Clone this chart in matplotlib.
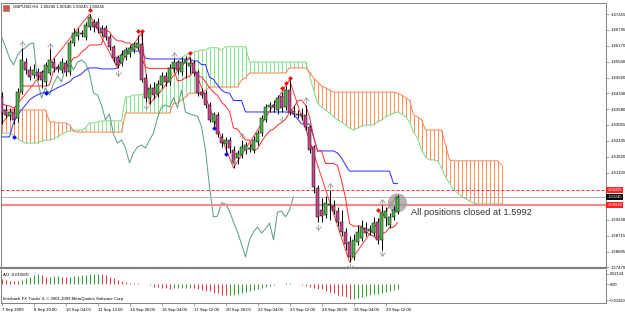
import numpy as np
import matplotlib
matplotlib.use("Agg")
import matplotlib.pyplot as plt
from matplotlib.path import Path

plt.rcParams['font.family'] = ['Liberation Sans', 'DejaVu Sans']

# GBPUSD H4 candles, 7 Sep 2009 .. 29 Sep 2009 (100 bars)
opens = [1.6416, 1.6365, 1.6341, 1.6357, 1.6334, 1.6435, 1.6553, 1.6522, 1.6502, 1.6514,
         1.6514, 1.6475, 1.6510, 1.6553, 1.6534, 1.6522, 1.6549, 1.6514, 1.6628, 1.6655,
         1.6667, 1.6652, 1.6691, 1.6710, 1.6710, 1.6687, 1.6687, 1.6652, 1.6613, 1.6573,
         1.6549, 1.6573, 1.6584, 1.6600, 1.6609, 1.6624, 1.6491, 1.6412, 1.6452, 1.6427,
         1.6463, 1.6498, 1.6475, 1.6530, 1.6553, 1.6514, 1.6549, 1.6537, 1.6549, 1.6514,
         1.6435, 1.6431, 1.6384, 1.6318, 1.6345, 1.6259, 1.6231, 1.6247, 1.6208, 1.6177,
         1.6188, 1.6208, 1.6212, 1.6208, 1.6239, 1.6274, 1.6326, 1.6377, 1.6384, 1.6365,
         1.6420, 1.6377, 1.6443, 1.6361, 1.6349, 1.6349, 1.6345, 1.6299, 1.6220, 1.6059,
         1.5972, 1.5952, 1.5992, 1.5988, 1.5968, 1.5925, 1.5886, 1.5847, 1.5788, 1.5847,
         1.5863, 1.5902, 1.5890, 1.5882, 1.5925, 1.5855, 1.5941, 1.5913, 1.5945, 1.5964]
highs = [1.6435, 1.6384, 1.6373, 1.6373, 1.6452, 1.6609, 1.6569, 1.6537, 1.6545, 1.6530,
         1.6522, 1.6553, 1.6609, 1.6569, 1.6545, 1.6569, 1.6561, 1.6640, 1.6687, 1.6687,
         1.6679, 1.6710, 1.6741, 1.6722, 1.6726, 1.6698, 1.6698, 1.6663, 1.6620, 1.6580,
         1.6600, 1.6613, 1.6620, 1.6632, 1.6659, 1.6667, 1.6506, 1.6467, 1.6475, 1.6483,
         1.6514, 1.6514, 1.6545, 1.6569, 1.6561, 1.6573, 1.6577, 1.6573, 1.6561, 1.6522,
         1.6452, 1.6443, 1.6396, 1.6357, 1.6357, 1.6274, 1.6259, 1.6259, 1.6223, 1.6208,
         1.6247, 1.6239, 1.6231, 1.6262, 1.6286, 1.6345, 1.6388, 1.6396, 1.6404, 1.6424,
         1.6435, 1.6459, 1.6483, 1.6380, 1.6365, 1.6373, 1.6384, 1.6306, 1.6228, 1.6071,
         1.6020, 1.6027, 1.6051, 1.6012, 1.5985, 1.5972, 1.5902, 1.5870, 1.5878, 1.5913,
         1.5933, 1.5925, 1.5913, 1.5945, 1.5941, 1.5992, 1.5984, 1.5960, 1.5988, 1.6031]
lows = [1.6310, 1.6334, 1.6326, 1.6310, 1.6318, 1.6427, 1.6506, 1.6483, 1.6491, 1.6483,
        1.6452, 1.6459, 1.6502, 1.6514, 1.6514, 1.6510, 1.6498, 1.6502, 1.6616, 1.6640,
        1.6652, 1.6640, 1.6679, 1.6671, 1.6667, 1.6655, 1.6640, 1.6600, 1.6553, 1.6530,
        1.6537, 1.6561, 1.6573, 1.6588, 1.6600, 1.6475, 1.6396, 1.6388, 1.6408, 1.6416,
        1.6452, 1.6459, 1.6463, 1.6514, 1.6506, 1.6502, 1.6491, 1.6510, 1.6498, 1.6420,
        1.6412, 1.6373, 1.6318, 1.6302, 1.6259, 1.6220, 1.6200, 1.6196, 1.6138, 1.6153,
        1.6177, 1.6192, 1.6200, 1.6196, 1.6227, 1.6262, 1.6318, 1.6357, 1.6357, 1.6349,
        1.6357, 1.6365, 1.6345, 1.6338, 1.6334, 1.6326, 1.6286, 1.6196, 1.6039, 1.5925,
        1.5925, 1.5941, 1.5933, 1.5956, 1.5909, 1.5870, 1.5815, 1.5768, 1.5776, 1.5835,
        1.5851, 1.5870, 1.5874, 1.5870, 1.5839, 1.5815, 1.5909, 1.5902, 1.5933, 1.5956]
closes = [1.6353, 1.6345, 1.6357, 1.6326, 1.6435, 1.6561, 1.6522, 1.6495, 1.6522, 1.6498,
          1.6483, 1.6541, 1.6561, 1.6530, 1.6526, 1.6553, 1.6514, 1.6628, 1.6667, 1.6671,
          1.6663, 1.6698, 1.6730, 1.6691, 1.6687, 1.6667, 1.6652, 1.6613, 1.6569, 1.6541,
          1.6580, 1.6600, 1.6609, 1.6624, 1.6628, 1.6483, 1.6412, 1.6452, 1.6424, 1.6467,
          1.6498, 1.6475, 1.6530, 1.6553, 1.6522, 1.6553, 1.6561, 1.6549, 1.6510, 1.6431,
          1.6424, 1.6384, 1.6326, 1.6349, 1.6270, 1.6235, 1.6247, 1.6216, 1.6157, 1.6196,
          1.6220, 1.6227, 1.6216, 1.6247, 1.6274, 1.6334, 1.6377, 1.6384, 1.6377, 1.6412,
          1.6373, 1.6443, 1.6357, 1.6349, 1.6345, 1.6341, 1.6299, 1.6208, 1.6063, 1.5945,
          1.5948, 1.6000, 1.5996, 1.5968, 1.5925, 1.5886, 1.5839, 1.5788, 1.5855, 1.5886,
          1.5906, 1.5882, 1.5898, 1.5921, 1.5855, 1.5964, 1.5968, 1.5945, 1.5972, 1.60245]

# Ichimoku lines
tenkan = [1.6388, 1.6384, 1.6380, 1.6373, 1.6380, 1.6459, 1.6459, 1.6459, 1.6459, 1.6459,
          1.6459, 1.6459, 1.6463, 1.6518, 1.6530, 1.6530, 1.6530, 1.6545, 1.6569, 1.6573,
          1.6592, 1.6604, 1.6620, 1.6620, 1.6620, 1.6622, 1.6679, 1.6671, 1.6648, 1.6636,
          1.6636, 1.6628, 1.6628, 1.6614, 1.6614, 1.6571, 1.6532, 1.6528, 1.6528, 1.6528,
          1.6528, 1.6528, 1.6528, 1.6528, 1.6479, 1.6481, 1.6493, 1.6497, 1.6514, 1.6498,
          1.6495, 1.6475, 1.6452, 1.6435, 1.6422, 1.6396, 1.6380, 1.6359, 1.6294, 1.6290,
          1.6267, 1.6247, 1.6247, 1.6206, 1.6212, 1.6241, 1.6263, 1.6282, 1.6290, 1.6304,
          1.6316, 1.6328, 1.6355, 1.6373, 1.6400, 1.6404, 1.6384, 1.6339, 1.6261, 1.6204,
          1.6204, 1.6155, 1.6155, 1.6155, 1.6147, 1.6088, 1.6021, 1.5919, 1.5909, 1.5909,
          1.5909, 1.5890, 1.5876, 1.5870, 1.5856, 1.5880, 1.5884, 1.5904, 1.5904, 1.5923]
kijun = [1.6259, 1.6259, 1.6259, 1.6314, 1.6345, 1.6365, 1.6384, 1.6404, 1.6416, 1.6424,
         1.6431, 1.6435, 1.6435, 1.6443, 1.6452, 1.6459, 1.6467, 1.6475, 1.6491, 1.6498,
         1.6506, 1.6522, 1.6530, 1.6530, 1.6530, 1.6526, 1.6526, 1.6526, 1.6526, 1.6530,
         1.6584, 1.6596, 1.6596, 1.6596, 1.6596, 1.6596, 1.6569, 1.6565, 1.6565, 1.6565,
         1.6565, 1.6565, 1.6565, 1.6565, 1.6565, 1.6565, 1.6565, 1.6565, 1.6557, 1.6557,
         1.6543, 1.6543, 1.6493, 1.6485, 1.6463, 1.6443, 1.6433, 1.6431, 1.6402, 1.6402,
         1.6402, 1.6357, 1.6357, 1.6357, 1.6357, 1.6357, 1.6357, 1.6357, 1.6357, 1.6357,
         1.6357, 1.6357, 1.6355, 1.6349, 1.6330, 1.6310, 1.6310, 1.6310, 1.6261, 1.6204,
         1.6204, 1.6204, 1.6204, 1.6204, 1.6196, 1.6177, 1.6149, 1.6125, 1.6125, 1.6125,
         1.6125, 1.6125, 1.6125, 1.6125, 1.6125, 1.6125, 1.6125, 1.6125, 1.6076, 1.6076]
# senkou spans, shifted 26 bars ahead (126 values)
span_a = [1.6274, 1.6274, 1.6274, 1.6266, 1.6251, 1.6243, 1.6235, 1.6235, 1.6235, 1.6235,
          1.6243, 1.6247, 1.6247, 1.6251, 1.6259, 1.6270, 1.6278, 1.6282, 1.6286, 1.6286,
          1.6286, 1.6294, 1.6314, 1.6314, 1.6318, 1.6322, 1.6322, 1.6322, 1.6322, 1.6322,
          1.6322, 1.6416, 1.6416, 1.6424, 1.6424, 1.6424, 1.6431, 1.6431, 1.6431, 1.6431,
          1.6435, 1.6463, 1.6491, 1.6514, 1.6541, 1.6569, 1.6580, 1.6592, 1.6592, 1.6596,
          1.6600, 1.6600, 1.6609, 1.6609, 1.6609, 1.6600, 1.6613, 1.6613, 1.6613, 1.6613,
          1.6613, 1.6613, 1.6553, 1.6553, 1.6553, 1.6553, 1.6553, 1.6553, 1.6553, 1.6553,
          1.6553, 1.6553, 1.6553, 1.6553, 1.6553, 1.6553, 1.6553, 1.6502, 1.6443, 1.6392,
          1.6377, 1.6365, 1.6353, 1.6338, 1.6326, 1.6318, 1.6306, 1.6294, 1.6286, 1.6294,
          1.6302, 1.6306, 1.6306, 1.6306, 1.6318, 1.6326, 1.6338, 1.6345, 1.6353, 1.6357,
          1.6349, 1.6338, 1.6318, 1.6278, 1.6255, 1.6208, 1.6181, 1.6169, 1.6169, 1.6165,
          1.6138, 1.6102, 1.6078, 1.6051, 1.6039, 1.6027, 1.6016, 1.6008, 1.6000, 1.5996,
          1.5996, 1.5996, 1.5996, 1.5996, 1.5996, 1.5996]
span_b = [1.6365, 1.6365, 1.6365, 1.6365, 1.6365, 1.6365, 1.6365, 1.6365, 1.6365, 1.6365,
          1.6365, 1.6365, 1.6318, 1.6318, 1.6314, 1.6314, 1.6314, 1.6306, 1.6282, 1.6278,
          1.6278, 1.6278, 1.6278, 1.6278, 1.6278, 1.6278, 1.6278, 1.6278, 1.6278, 1.6278,
          1.6278, 1.6353, 1.6353, 1.6353, 1.6353, 1.6353, 1.6353, 1.6353, 1.6353, 1.6353,
          1.6353, 1.6353, 1.6353, 1.6392, 1.6392, 1.6404, 1.6416, 1.6431, 1.6431, 1.6431,
          1.6431, 1.6443, 1.6455, 1.6455, 1.6455, 1.6455, 1.6455, 1.6455, 1.6455, 1.6455,
          1.6483, 1.6491, 1.6510, 1.6510, 1.6510, 1.6510, 1.6510, 1.6510, 1.6510, 1.6510,
          1.6510, 1.6510, 1.6530, 1.6530, 1.6530, 1.6530, 1.6530, 1.6514, 1.6491, 1.6475,
          1.6459, 1.6452, 1.6443, 1.6435, 1.6435, 1.6435, 1.6435, 1.6435, 1.6435, 1.6435,
          1.6435, 1.6435, 1.6435, 1.6435, 1.6435, 1.6435, 1.6435, 1.6435, 1.6435, 1.6431,
          1.6424, 1.6412, 1.6404, 1.6345, 1.6338, 1.6326, 1.6286, 1.6286, 1.6286, 1.6286,
          1.6286, 1.6228, 1.6169, 1.6165, 1.6165, 1.6165, 1.6165, 1.6165, 1.6165, 1.6165,
          1.6165, 1.6165, 1.6165, 1.6165, 1.6165, 1.6149]

# Awesome Oscillator
ao_vals = [0.0110, 0.0075, 0.0070, 0.0065, 0.0060, 0.0090, 0.0115, 0.0145, 0.0190, 0.0200,
           0.0175, 0.0145, 0.0150, 0.0160, 0.0165, 0.0150, 0.0135, 0.0145, 0.0155, 0.0165,
           0.0175, 0.0190, 0.0200, 0.0210, 0.0212, 0.0200, 0.0175, 0.0145, 0.0115, 0.0085,
           0.0065, 0.0040, 0.0030, 0.0020, 0.0012, 0.0005, -0.0010, -0.0030, -0.0052, -0.0070,
           -0.0075, -0.0088, -0.0092, -0.0088, -0.0082, -0.0078, -0.0075, -0.0072, -0.0082, -0.0100,
           -0.0118, -0.0135, -0.0152, -0.0175, -0.0192, -0.0215, -0.0232, -0.0228, -0.0215, -0.0200,
           -0.0185, -0.0162, -0.0145, -0.0122, -0.0100, -0.0078, -0.0055, -0.0032, -0.0020, -0.0008,
           0.0005, 0.0012, 0.0018, 0.0010, 0.0002, -0.0012, -0.0040, -0.0065, -0.0088, -0.0100,
           -0.0110, -0.0135, -0.0160, -0.0190, -0.0215, -0.0245, -0.0275, -0.0305, -0.0298, -0.0282,
           -0.0265, -0.0248, -0.0230, -0.0212, -0.0195, -0.0178, -0.0160, -0.0142, -0.0124, -0.0105]

# zigzag turning points
zz_bars = [0, 22, 29, 35, 37, 47, 58, 72, 87, 99]
zz_prices = [1.6310, 1.6741, 1.6530, 1.6667, 1.6388, 1.6573, 1.6138, 1.6483, 1.5768, 1.6031]

# signal dots
sell_bars = [22, 34, 35, 47, 70, 71, 72, 94]
sell_prices = [1.6757, 1.6675, 1.6675, 1.6588, 1.6452, 1.6471, 1.6491, 1.5972]
buy_bars = [3, 11, 53, 56]
buy_prices = [1.6259, 1.6431, 1.6295, 1.6192]

# fractals
frac_up_bars = [5, 12, 43, 60, 76, 82, 95]
frac_up_prices = [1.6624, 1.6616, 1.6580, 1.6263, 1.6404, 1.6067, 1.6004]
frac_dn_bars = [29, 36, 58, 70, 79, 87, 95]
frac_dn_prices = [1.6510, 1.6380, 1.6161, 1.6330, 1.5906, 1.5752, 1.5803]

price_ticks = [1.67415, 1.66795, 1.66170, 1.65540, 1.64920, 1.64300, 1.63680, 1.63065,
               1.62435, 1.61820, 1.61190, 1.59330, 1.58715, 1.58085, 1.57470]
time_labels = ["7 Sep 2009", "8 Sep 20:00", "10 Sep 04:00", "11 Sep 12:00", "14 Sep 20:00",
               "16 Sep 04:00", "17 Sep 12:00", "20 Sep 20:00", "22 Sep 04:00", "23 Sep 12:00",
               "24 Sep 20:00", "28 Sep 04:00", "29 Sep 12:00"]
order_line = 1.60495
bid_price = 1.60245
closed_price = 1.5992

n = len(closes)
bars = np.arange(n)
o = np.array(opens)
c = np.array(closes)
PX = 0.72  # one pixel in points

W, H = 625.0, 313.0
fig = plt.figure(figsize=(6.25, 3.13), dpi=100)
fig.patch.set_facecolor('white')
ax = fig.add_axes([1 / W, (H - 268) / H, 605 / W, 265 / H])
ax2 = fig.add_axes([1 / W, (H - 303) / H, 605 / W, 33 / H])

# bar k sits on pixel centre 1.5 + 4k
xmin, xmax = -0.125, 151.125
ax.set_xlim(xmin, xmax)
ax.set_ylim(1.57446, 1.67847)

# cloud hatching, one vertical stroke per bar
for k in range(len(span_a)):
    lo, hi = sorted([span_a[k], span_b[k]])
    col = '#8ee08e' if span_a[k] >= span_b[k] else '#ff8d5e'
    ax.plot([k, k], [lo, hi], color=col, lw=PX, solid_capstyle='butt', zorder=1)
ax.plot(range(len(span_a)), span_a, color='#80da80', lw=PX, zorder=2)
ax.plot(range(len(span_b)), span_b, color='#ff8452', lw=PX, zorder=2)

# chikou = close shifted back 26 bars
ax.plot(bars[:n - 26], closes[26:], color='#5a9f80', lw=PX, zorder=2)

ax.plot(bars, kijun, color='#3030ff', lw=PX, zorder=3)
ax.plot(bars, tenkan, color='#ff3030', lw=PX, zorder=3)
ax.plot(zz_bars, zz_prices, color='#ff4040', lw=PX, zorder=3)

# horizontal levels
ax.axhline(order_line, color='#ff3030', lw=PX, ls=(0, (3, 2)), zorder=2)
ax.axhline(bid_price, color='#b4b4b4', lw=PX, zorder=2)
ax.axhline(closed_price, color='#f48c8c', lw=1.6, zorder=2)

# closing circle
ax.scatter([99], [1.6000], s=190, color='#9c9c9c', alpha=0.75, edgecolors='none', zorder=3.5)

# candles
ax.vlines(bars, lows, highs, color='black', lw=PX, zorder=4)
body_cols = ['#4cb84c' if c[i] >= o[i] else '#c84a8a' for i in range(n)]
ax.bar(bars, c - o, bottom=o, width=0.75, color=body_cols, edgecolor='black',
       linewidth=0.35, zorder=5)

ax.plot(sell_bars, sell_prices, 'D', color='#ff0000', ms=2.4, mew=0, zorder=6)
ax.plot(buy_bars, buy_prices, 'D', color='#0000ff', ms=2.4, mew=0, zorder=6)

up_mark = Path([(-1, -0.3), (0, 1), (1, -0.3), (0, 1), (0, -1)],
               [Path.MOVETO, Path.LINETO, Path.LINETO, Path.MOVETO, Path.LINETO])
dn_mark = Path([(-1, 0.3), (0, -1), (1, 0.3), (0, -1), (0, 1)],
               [Path.MOVETO, Path.LINETO, Path.LINETO, Path.MOVETO, Path.LINETO])
ax.plot(frac_up_bars, frac_up_prices, ls='none', marker=up_mark, ms=4, mfc='none',
        mec='#9a9a9a', mew=0.6, zorder=6)
ax.plot(frac_dn_bars, frac_dn_prices, ls='none', marker=dn_mark, ms=4, mfc='none',
        mec='#9a9a9a', mew=0.6, zorder=6)

ax.text(102.3, 1.5964, "All positions closed at 1.5992", fontsize=6.7, color='#333333',
        va='center', ha='left', zorder=7)
ax.text(12 / 605, 1 - 4 / 265, "GBPUSD,H4  1.60245 1.60245 1.60245 1.60245",
        transform=ax.transAxes, fontsize=3.1, va='center', ha='left')
ax.add_patch(plt.Rectangle((2 / 605, 1 - 8 / 265), 6 / 605, 6 / 265, transform=ax.transAxes,
                           facecolor='#e05050', edgecolor='#4a8a4a', lw=0.4))

# axes styling
ax.yaxis.tick_right()
ax.set_yticks(price_ticks)
ax.set_yticklabels(["%.5f" % p for p in price_ticks])
ax.tick_params(axis='y', length=2.5, width=0.5, color='#808080', labelsize=3.1, pad=1)
ax.set_xticks([])
for s in ax.spines.values():
    s.set_color('#808080')
    s.set_linewidth(0.7)
ax.spines['bottom'].set_linewidth(1.6)

tr = ax.get_yaxis_transform()
for val, fc in [(order_line, '#ff2020'), (bid_price, '#000000'), (closed_price, '#ff2020')]:
    ax.text(1.0 + 1.5 / 605, val, "%.5f" % val, transform=tr, fontsize=3.0, color='white',
            va='center', ha='left', clip_on=False,
            bbox=dict(boxstyle='square,pad=0.25', fc=fc, ec='none'))

# AO panel
ao_arr = np.array(ao_vals)
ao_cols = ['#e04040'] + ['#30a030' if ao_arr[i] > ao_arr[i - 1] else '#e04040' for i in range(1, n)]
ax2.vlines(bars, 0, ao_arr, colors=ao_cols, lw=PX)
ax2.set_xlim(xmin, xmax)
ax2.set_ylim(-0.0388, 0.0286)
ax2.yaxis.tick_right()
ax2.set_yticks([0.02124, 0.0, -0.0332])
ax2.set_yticklabels(["0.02124", "0.00", "-0.03320"])
ax2.set_xticks(np.arange(0, n, 8))
ax2.set_xticklabels(time_labels, ha='left')
ax2.tick_params(axis='x', length=2.5, width=0.5, color='#808080', labelsize=3.1, pad=1)
ax2.tick_params(axis='y', length=2, width=0.5, color='#808080', labelsize=2.9, pad=0.6)
for s in ax2.spines.values():
    s.set_color('#808080')
    s.set_linewidth(0.7)
ax2.spines['top'].set_visible(False)
ax2.text(2 / 605, 0.85, "AO -0.010505", transform=ax2.transAxes, fontsize=3.1, va='center')
ax2.text(2 / 605, 0.12, "Interbank FX Trader 4, \u00a9 2001-2009 MetaQuotes Software Corp.",
         transform=ax2.transAxes, fontsize=3.1, va='center')

fig.savefig("out.png", dpi=100, facecolor='white')
